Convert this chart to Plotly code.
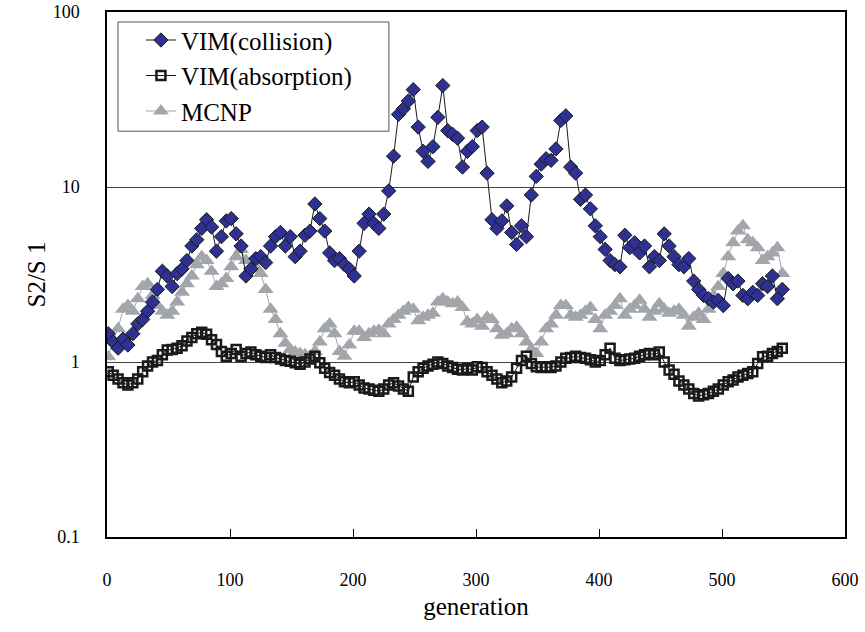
import plotly.graph_objects as go

generations = list(range(1, 550, 4))

vim_collision = [
    1.45, 1.3, 1.2, 1.35, 1.25, 1.45, 1.65, 1.75, 1.95, 2.2,
    2.6, 3.3, 3.1, 2.7, 3.2, 3.4, 3.8, 4.6, 5.0, 5.8,
    6.5, 5.9, 4.3, 5.2, 6.4, 6.6, 5.4, 4.6, 3.1, 3.4,
    3.9, 4.0, 3.7, 4.6, 5.2, 5.5, 4.6, 5.2, 4.0, 4.3,
    5.3, 5.6, 8.0, 6.6, 5.6, 4.2, 3.8, 3.9, 3.6, 3.4,
    3.1, 4.3, 6.2, 7.0, 6.2, 5.8, 7.0, 9.5, 15, 26,
    28, 31, 36, 22, 16, 14, 17, 25, 38, 21,
    20, 19, 13, 16, 17, 21, 22, 12, 6.5, 5.8,
    6.4, 7.8, 5.5, 4.7, 6.0, 5.2, 9.0, 11.5, 13.5, 14.5,
    14.2, 16.5, 24, 25.5, 13, 12, 8.5, 9.0, 7.5, 6.0,
    5.2, 4.4, 3.8, 3.6, 3.5, 5.3, 4.5, 4.8, 4.2, 4.6,
    3.5, 4.0, 3.8, 5.4, 4.6, 4.0, 3.6, 3.5, 3.9, 2.9,
    2.6, 2.4, 2.3, 2.2, 2.25, 2.1, 3.0, 2.8, 2.9, 2.4,
    2.3, 2.5, 2.4, 2.8, 2.7, 3.1, 2.3, 2.6,
]

vim_absorption = [
    0.88, 0.84, 0.80, 0.76, 0.74, 0.76, 0.80, 0.88, 0.95, 1.0,
    1.02, 1.10, 1.17, 1.18, 1.20, 1.24, 1.32, 1.38, 1.45, 1.48,
    1.44, 1.34, 1.26, 1.15, 1.08, 1.12, 1.18, 1.08, 1.12, 1.14,
    1.10, 1.08, 1.06, 1.10, 1.06, 1.04, 1.02, 1.01, 0.99, 0.97,
    1.0, 1.04, 1.08, 0.99, 0.92, 0.87, 0.84, 0.80, 0.77, 0.76,
    0.77, 0.74, 0.71, 0.70, 0.69, 0.68, 0.70, 0.74, 0.76, 0.73,
    0.70, 0.68, 0.82, 0.88, 0.92, 0.95, 0.97, 1.0, 0.98, 0.95,
    0.93, 0.91, 0.90, 0.92, 0.90, 0.94, 0.93, 0.88, 0.84, 0.80,
    0.76, 0.78, 0.82, 0.92, 1.02, 1.08, 0.98, 0.94, 0.93, 0.94,
    0.93, 0.95, 1.0, 1.05, 1.06, 1.08, 1.06, 1.05, 1.03, 1.00,
    1.02, 1.10, 1.20, 1.05, 1.02, 1.03, 1.04, 1.05, 1.08, 1.10,
    1.12, 1.10, 1.14, 1.00, 0.90, 0.85, 0.78, 0.74, 0.70, 0.66,
    0.64, 0.65, 0.66, 0.68, 0.70, 0.74, 0.77, 0.79, 0.82, 0.84,
    0.86, 0.88, 0.98, 1.07, 1.08, 1.12, 1.15, 1.20,
]

mcnp = [
    1.07, 1.35, 1.55, 2.0, 2.1, 1.95, 2.3, 2.7, 2.8, 2.4,
    2.1, 1.95, 1.85, 1.95, 2.2, 2.5, 2.8, 3.1, 3.6, 4.0,
    3.8, 3.3, 2.7, 2.8, 3.0, 3.5, 4.0, 4.4, 3.8, 3.4,
    3.5, 3.2, 2.6, 2.0, 1.75, 1.45, 1.28, 1.18, 1.14, 1.12,
    1.10, 1.08, 1.15, 1.3, 1.55, 1.65, 1.45, 1.15, 1.08, 1.25,
    1.50, 1.50, 1.38, 1.45, 1.50, 1.52, 1.45, 1.65, 1.75, 1.85,
    1.95, 2.05, 2.0, 1.72, 1.80, 1.85, 1.90, 2.2, 2.3, 2.2,
    2.15, 2.2, 2.05, 1.7, 1.65, 1.75, 1.6, 1.8, 1.75, 1.55,
    1.42, 1.45, 1.55, 1.58, 1.45, 1.30, 1.18, 1.12, 1.3, 1.55,
    1.65, 1.85, 2.1, 2.1, 1.85, 1.8, 1.85, 1.95, 2.05, 1.75,
    1.55, 1.85, 1.95, 2.1, 2.3, 1.85, 2.0, 2.1, 2.25, 2.0,
    1.8, 1.95, 2.15, 2.0, 1.9, 1.95, 2.0, 1.85, 1.6, 1.8,
    1.9, 1.75, 2.0, 2.4, 2.7, 3.2, 4.0, 4.8, 5.6, 6.0,
    5.0, 4.8, 4.5, 3.8, 4.0, 4.2, 4.5, 3.2,
]

x_ticks = [0, 100, 200, 300, 400, 500, 600]
y_ticks = [0.1, 1, 10, 100]
y_tick_text = ["0.1", "1", "10", "100"]

serif = "Liberation Serif"

fig = go.Figure()

fig.add_trace(go.Scatter(
    x=generations, y=mcnp, name="MCNP", mode="lines+markers",
    line=dict(color="#A2A6AB", width=1),
    marker=dict(symbol="triangle-up", size=14, color="#A2A6AB",
                line=dict(width=0)),
    legendrank=3,
))
fig.add_trace(go.Scatter(
    x=generations, y=vim_absorption, name="VIM(absorption)", mode="lines+markers",
    line=dict(color="#1a1a1a", width=1),
    marker=dict(symbol="square-open", size=9, color="#1a1a1a",
                line=dict(width=2.5, color="#1a1a1a")),
    legendrank=2,
))
fig.add_trace(go.Scatter(
    x=generations, y=vim_collision, name="VIM(collision)", mode="lines+markers",
    line=dict(color="#1a1a1a", width=1),
    marker=dict(symbol="diamond", size=11, color="#2E3192",
                line=dict(width=1, color="#1a1a1a")),
    legendrank=1,
))

# legend frame (plot-area fraction coordinates)
fig.add_shape(type="rect", xref="paper", yref="paper",
              x0=0.0149, x1=0.382, y0=0.773, y1=0.981,
              line=dict(color="#555", width=1), fillcolor="rgba(0,0,0,0)",
              layer="above")

fig.update_layout(
    width=865, height=632,
    margin=dict(l=107, r=20, t=12, b=95, autoexpand=False),
    paper_bgcolor="white", plot_bgcolor="white",
    font=dict(family=serif, size=17, color="black"),
    showlegend=True,
    legend=dict(
        x=0.046, y=0.99, xanchor="left", yanchor="top",
        bgcolor="rgba(0,0,0,0)", borderwidth=0,
        font=dict(family=serif, size=25, color="black"),
        tracegroupgap=0,
    ),
    xaxis=dict(
        range=[0, 600], tickvals=x_ticks, ticks="inside", ticklen=8,
        tickcolor="black", showline=True, linecolor="black", linewidth=1.5,
        mirror=True, showgrid=False, zeroline=False, automargin=False,
        tickfont=dict(family=serif, size=18), ticklabelstandoff=26,
        title=dict(text="generation", font=dict(family=serif, size=25), standoff=8),
    ),
    yaxis=dict(
        type="log", range=[-1, 2], tickvals=y_ticks, ticktext=y_tick_text,
        ticks="", showline=True, linecolor="black", linewidth=1.5,
        mirror=True, showgrid=True, gridcolor="#444", gridwidth=1,
        zeroline=False, automargin=False, tickfont=dict(family=serif, size=18),
        ticklabelstandoff=22,
        title=dict(text="S2/S 1", font=dict(family=serif, size=25), standoff=0),
    ),
)

fig.write_html("out.html")
